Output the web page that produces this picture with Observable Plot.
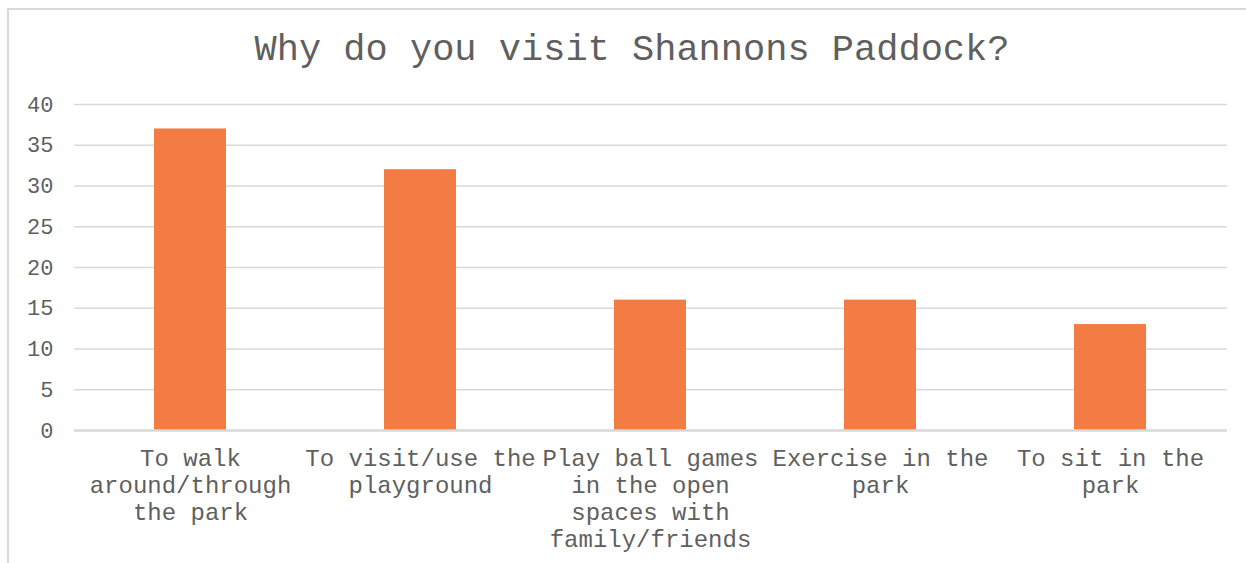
<!DOCTYPE html>
<html>
<head>
<meta charset="utf-8">
<script src="https://cdn.jsdelivr.net/npm/d3@7"></script>
<script src="https://cdn.jsdelivr.net/npm/@observablehq/plot@0.6"></script>
<style>
  html, body { margin: 0; padding: 0; background: #fff; width: 1246px; height: 563px; overflow: hidden; }
  #frame { position: absolute; left: 7px; top: 8px; width: 1260px; height: 600px; z-index: 10;
           border-left: 2px solid #d9d9d9; border-top: 2px solid #d9d9d9; box-sizing: border-box;
           background: transparent; pointer-events: none; }
  #title { position: absolute; top: 32px; left: 632px; transform: translateX(-50%);
           font-family: "Liberation Mono", monospace; font-size: 37px; line-height: 37px;
           color: #5f5f5f; white-space: nowrap; }
  #chart { position: absolute; left: 0; top: 90px; }
</style>
</head>
<body>
<div id="title">Why do you visit Shannons Paddock?</div>
<div id="chart"></div>
<div id="frame"></div>
<script>
const categories = [
  "To walk\naround/through\nthe park",
  "To visit/use the\nplayground",
  "Play ball games\nin the open\nspaces with\nfamily/friends",
  "Exercise in the\npark",
  "To sit in the\npark"
];
const values = [37, 32, 16, 16, 13];
const yTicks = [0, 5, 10, 15, 20, 25, 30, 35, 40];

const data = categories.map((c, i) => ({category: c, value: values[i]}));

const plot = Plot.plot({
  width: 1246,
  height: 473,
  marginTop: 14,
  marginBottom: 133,
  marginLeft: 74,
  marginRight: 19,
  style: {fontFamily: "Liberation Mono, monospace", color: "#5f5f5f", background: "transparent"},
  x: {domain: categories, paddingInner: 0.685, paddingOuter: 0.3425, align: 0.5},
  y: {domain: [0, 40]},
  marks: [
    Plot.ruleY(yTicks.filter(d => d !== 0), {stroke: "#d9d9d9", strokeWidth: 1.5}),
    Plot.barY(data, {x: "category", y: "value", fill: "#f37c45"}),
    Plot.ruleY([0], {stroke: "#d9d9d9", strokeWidth: 2.5}),
    Plot.axisY({ticks: yTicks, tickSize: 0, tickPadding: 21, fontSize: 22, label: null, fill: "#5f5f5f"}),
    Plot.axisX({tickSize: 0, tickPadding: 16, fontSize: 24, lineHeight: 1.13, label: null, fill: "#5f5f5f"})
  ]
});
document.getElementById("chart").appendChild(plot);
</script>
</body>
</html>
